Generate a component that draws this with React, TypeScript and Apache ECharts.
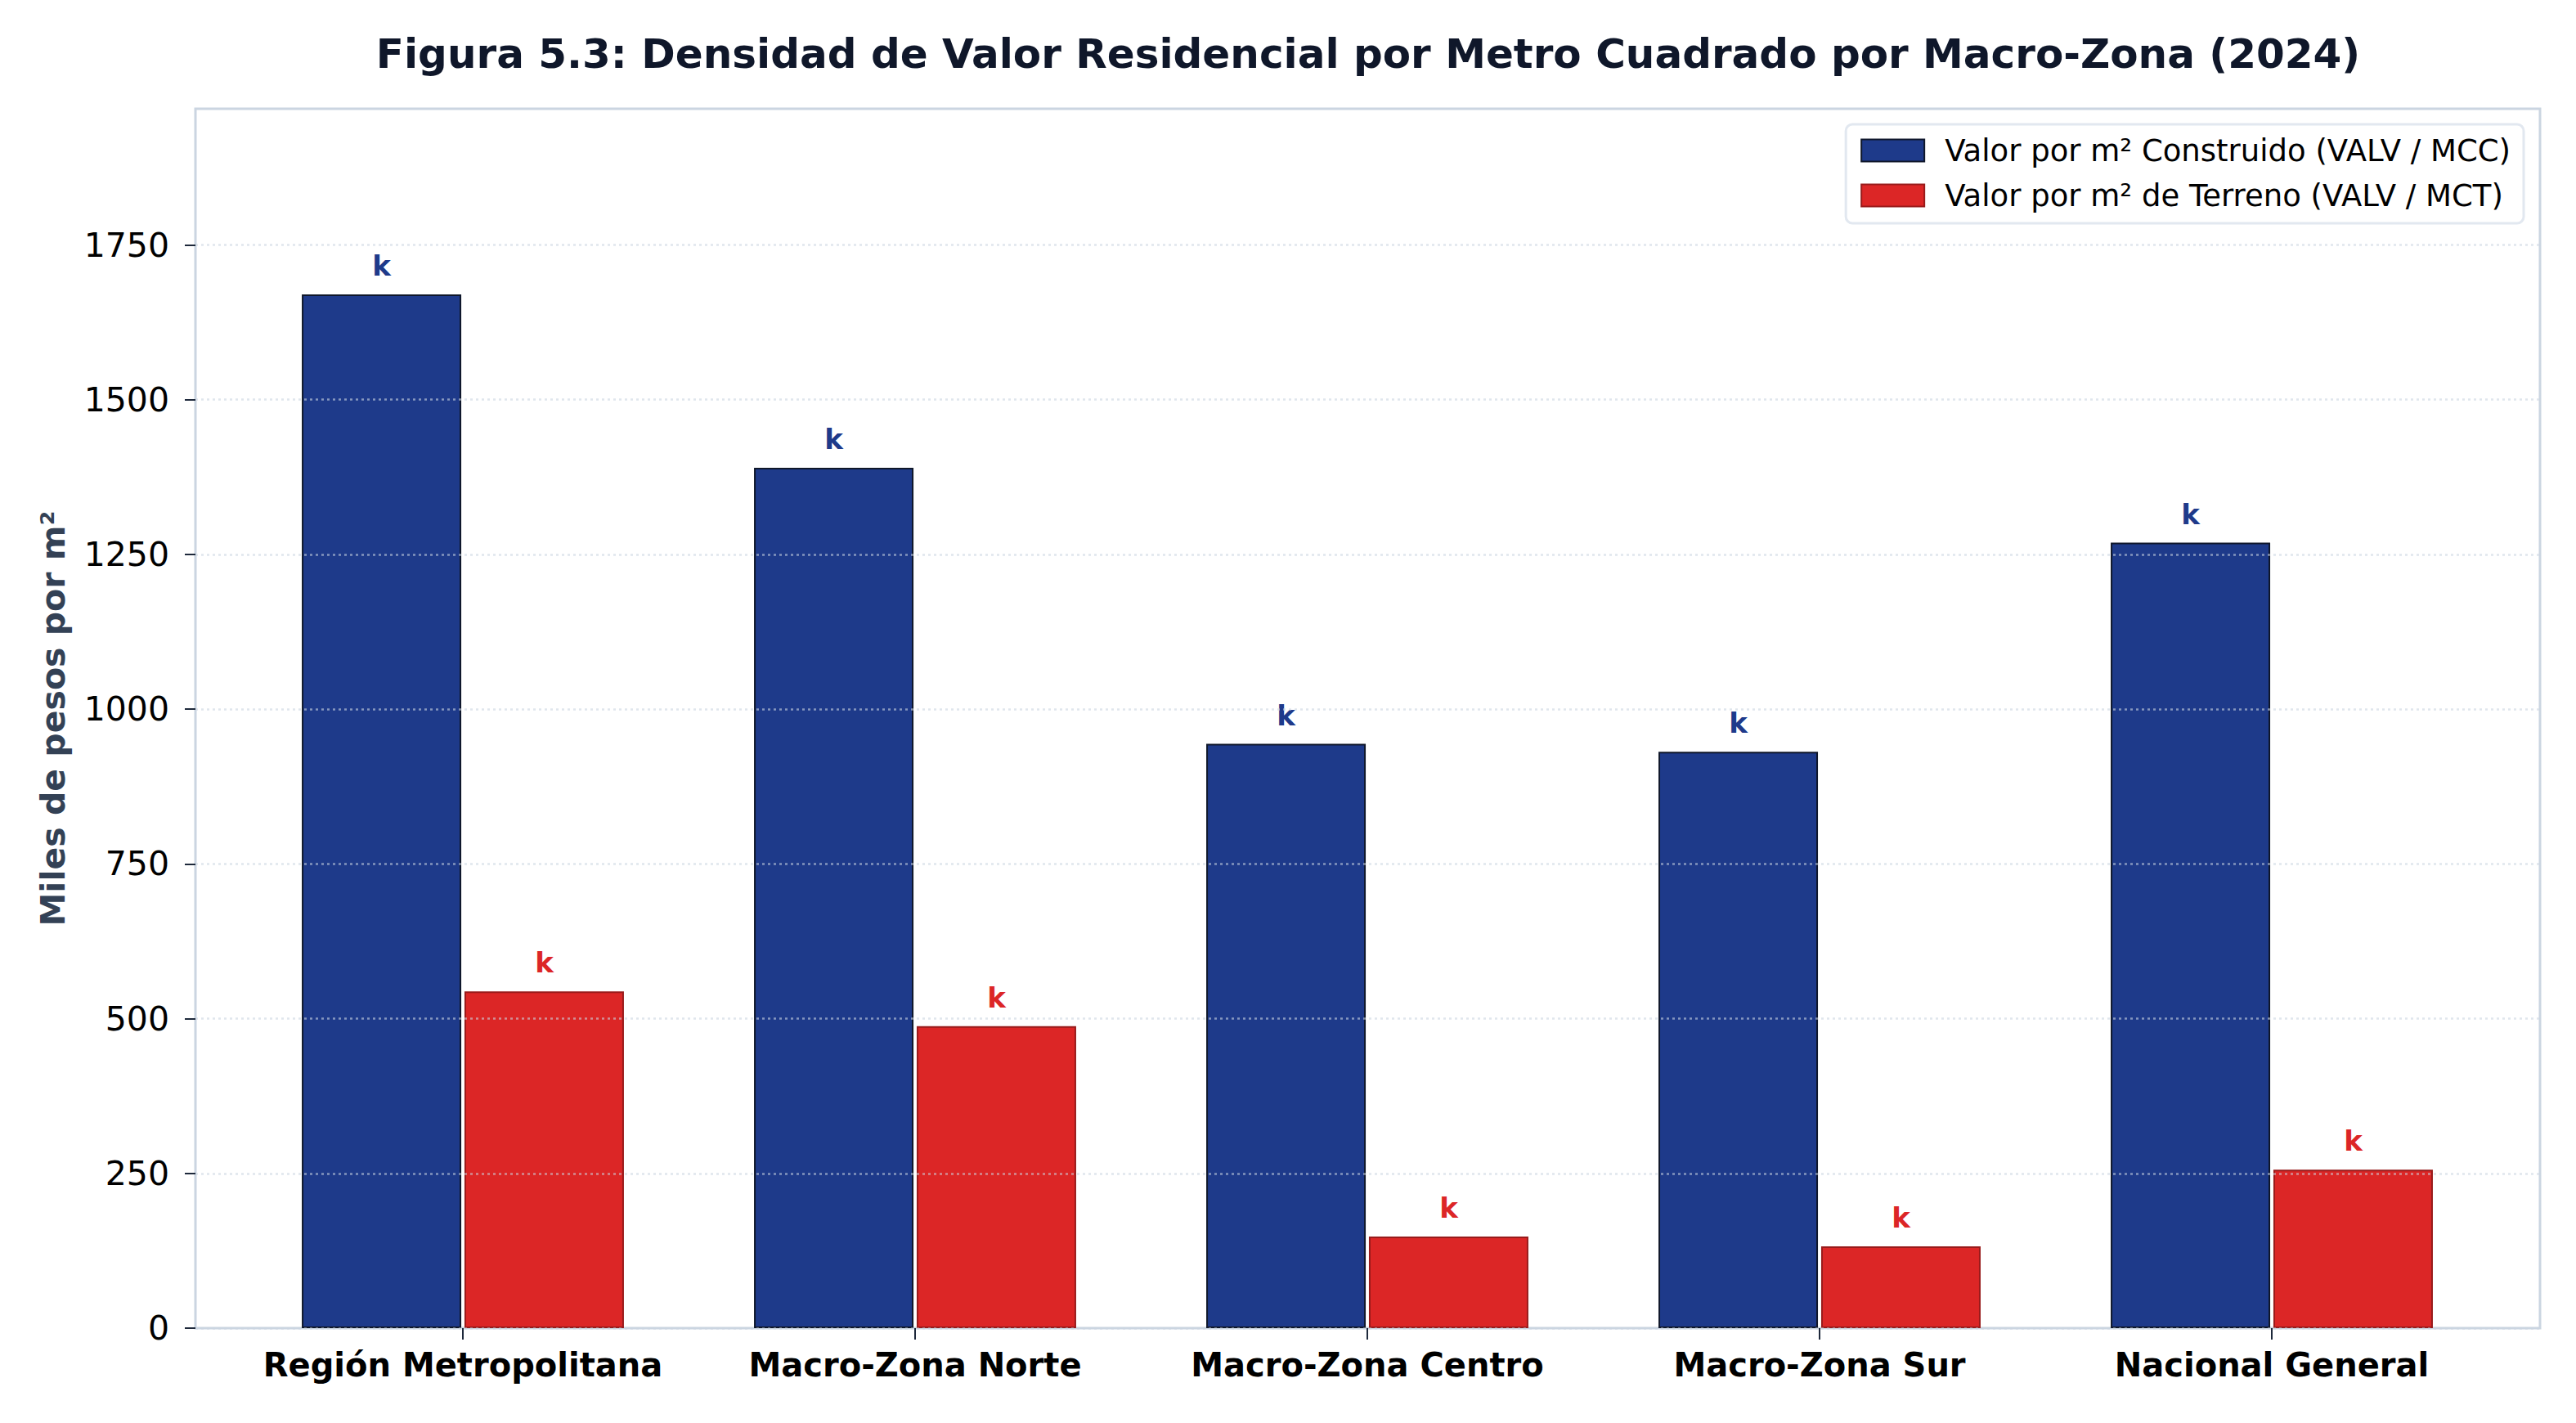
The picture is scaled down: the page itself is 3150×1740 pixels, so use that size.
import React, { useEffect, useRef } from 'react';
import * as echarts from 'echarts';
import type { EChartsType } from 'echarts';

const categories = [
  'Región Metropolitana',
  'Macro-Zona Norte',
  'Macro-Zona Centro',
  'Macro-Zona Sur',
  'Nacional General'
];
const construido = [1670, 1390, 944, 931, 1269];
const terreno = [544, 488, 148, 132, 256];
const yTicks = [0, 250, 500, 750, 1000, 1250, 1500, 1750];
const yMax = 1970;

const FONT = '"DejaVu Sans", Verdana, sans-serif';

const App = () => {
  const chartRef = useRef<HTMLDivElement>(null);

  useEffect(() => {
    document.body.style.margin = '0';
    let chart: EChartsType | null = null;

    if (chartRef.current) {
      chart = echarts.init(chartRef.current, null, { renderer: 'svg' });

      const barLabel = (color: string) => ({
        show: true,
        position: 'top',
        distance: 18,
        formatter: () => 'k',
        color,
        fontFamily: FONT,
        fontWeight: 'bold',
        fontSize: 34
      });

      const option = {
        animation: false,
        backgroundColor: '#ffffff',
        textStyle: { fontFamily: FONT },
        title: {
          text: 'Figura 5.3: Densidad de Valor Residencial por Metro Cuadrado por Macro-Zona (2024)',
          left: 1668,
          top: 36,
          textAlign: 'center',
          textStyle: {
            fontFamily: FONT,
            fontWeight: 'bold',
            fontSize: 50,
            color: '#0f172a'
          }
        },
        legend: {
          orient: 'vertical',
          right: 64,
          top: 152,
          padding: [12, 16, 14, 18],
          itemWidth: 77,
          itemHeight: 27,
          itemGap: 15,
          icon: 'rect',
          backgroundColor: '#ffffff',
          borderColor: '#e2e8f0',
          borderWidth: 3,
          borderRadius: 8,
          textStyle: {
            fontFamily: FONT,
            fontSize: 37,
            lineHeight: 40,
            color: '#000000',
            padding: [0, 0, 0, 20]
          },
          data: ['Valor por m² Construido (VALV / MCC)', 'Valor por m² de Terreno (VALV / MCT)']
        },
        grid: [
          { left: 289.5, right: 95.5, top: 133, bottom: 116 },
          {
            left: 239,
            right: 44,
            top: 133,
            bottom: 116,
            show: true,
            borderColor: '#cbd5e1',
            borderWidth: 3,
            backgroundColor: 'transparent'
          }
        ],
        xAxis: [
          {
            type: 'category',
            gridIndex: 0,
            data: categories,
            axisLine: { show: false },
            axisTick: {
              show: true,
              alignWithLabel: true,
              length: 14,
              lineStyle: { color: '#1e293b', width: 2 }
            },
            axisLabel: {
              interval: 0,
              margin: 25,
              fontFamily: FONT,
              fontWeight: 'bold',
              fontSize: 40,
              color: '#000000'
            },
            splitLine: { show: false }
          },
          { type: 'value', gridIndex: 1, show: false }
        ],
        yAxis: [
          { type: 'value', gridIndex: 0, min: 0, max: yMax, show: false },
          {
            type: 'value',
            gridIndex: 1,
            min: 0,
            max: yMax,
            interval: 250,
            z: 5,
            name: 'Miles de pesos por m²',
            nameLocation: 'middle',
            nameGap: 154,
            nameTextStyle: {
              fontFamily: FONT,
              fontWeight: 'bold',
              fontSize: 41,
              color: '#334155'
            },
            axisLine: { show: false },
            axisTick: {
              show: true,
              length: 13,
              customValues: yTicks,
              lineStyle: { color: '#1e293b', width: 2 }
            },
            axisLabel: {
              margin: 32,
              customValues: yTicks,
              formatter: (v: number) => String(v),
              fontFamily: FONT,
              fontSize: 41,
              color: '#000000'
            },
            splitLine: {
              show: true,
              lineStyle: { color: 'rgba(203,213,225,0.6)', width: 2.5, type: [3, 4] }
            }
          }
        ],
        series: [
          {
            name: 'Valor por m² Construido (VALV / MCC)',
            type: 'bar',
            xAxisIndex: 0,
            yAxisIndex: 0,
            barWidth: 195,
            barGap: '2%',
            data: construido,
            itemStyle: { color: '#1e3a8a', borderColor: '#0f172a', borderWidth: 2 },
            label: barLabel('#1e3a8a')
          },
          {
            name: 'Valor por m² de Terreno (VALV / MCT)',
            type: 'bar',
            xAxisIndex: 0,
            yAxisIndex: 0,
            barWidth: 195,
            barGap: '2%',
            data: terreno,
            itemStyle: { color: '#dc2626', borderColor: '#991b1b', borderWidth: 2 },
            label: barLabel('#dc2626')
          }
        ]
      };

      chart.setOption(option as any);
    }

    return () => {
      chart?.dispose();
    };
  }, []);

  return <div ref={chartRef} style={{ width: '3150px', height: '1740px' }}></div>;
};

export default App;
